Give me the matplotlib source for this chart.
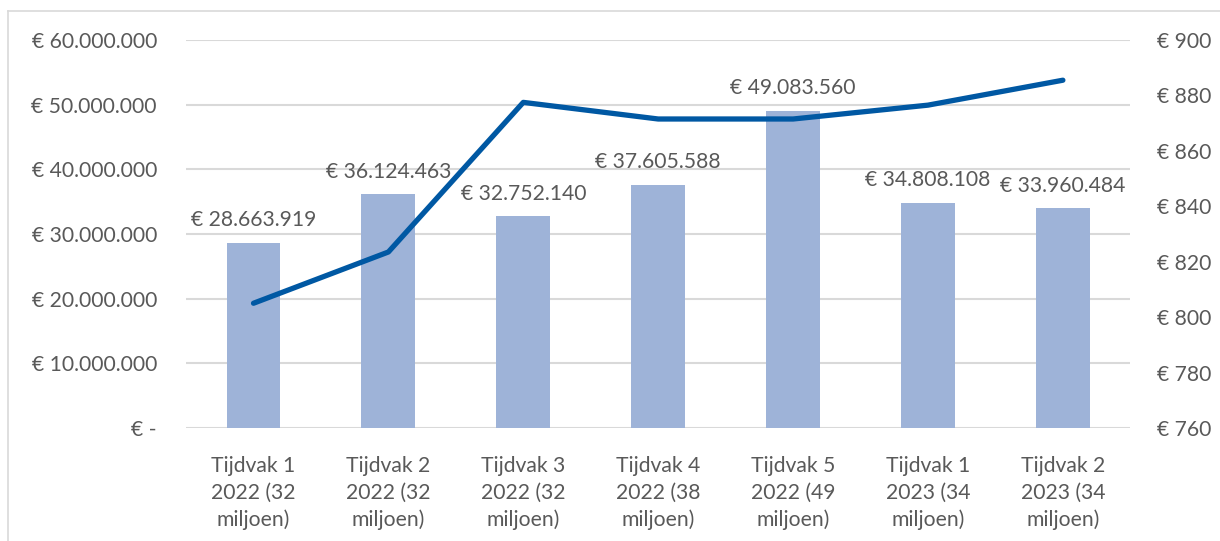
import numpy as np
import matplotlib.pyplot as plt
from matplotlib.lines import Line2D

# Data
categories = ['Tijdvak 1\n2022 (32\nmiljoen)', 'Tijdvak 2\n2022 (32\nmiljoen)',
              'Tijdvak 3\n2022 (32\nmiljoen)', 'Tijdvak 4\n2022 (38\nmiljoen)',
              'Tijdvak 5\n2022 (49\nmiljoen)', 'Tijdvak 1\n2023 (34\nmiljoen)',
              'Tijdvak 2\n2023 (34\nmiljoen)']
totals = [28663919, 36124463, 32752140, 37605588, 49083560, 34808108, 33960484]
average = [805, 823.5, 877.5, 871.5, 871.5, 876.5, 885.5]

left_ticks = [0, 10e6, 20e6, 30e6, 40e6, 50e6, 60e6]
right_ticks = [760, 780, 800, 820, 840, 860, 880, 900]


def euro(v):
    if v == 0:
        return '€ -'
    return '€ ' + f'{v:,.0f}'.replace(',', '.')


plt.rcParams['font.family'] = ['Lato', 'DejaVu Sans']
text_col = '#595959'
grid_col = '#D9D9D9'
fs = 15.2

fig = plt.figure(figsize=(12.2, 5.41), dpi=100)
ax = fig.add_axes([0.1525, 0.209, 0.774, 0.717])
ax2 = ax.twinx()

x = np.arange(len(categories))
ax.bar(x, totals, width=0.4, color='#9EB3D8', zorder=2)
ax.set_xlim(-0.5, len(categories) - 0.5)
ax.set_ylim(0, 60e6)
ax.set_yticks(left_ticks)
ax.set_yticklabels([euro(v) for v in left_ticks])
ax.yaxis.grid(True, color=grid_col, linewidth=1.5, zorder=0)
ax.set_axisbelow(True)
ax.set_xticks(x)
ax.set_xticklabels(categories, linespacing=1.42)

for xi, v in zip(x, totals):
    ax.annotate(euro(v), (xi, v), xytext=(0, 9), textcoords='offset points',
                ha='center', va='bottom', fontsize=fs, color=text_col, zorder=5)

ax2.plot(x, average, color='#0058A3', linewidth=3.8, solid_capstyle='round',
         solid_joinstyle='round', zorder=4)
ax2.set_ylim(760, 900)
ax2.set_yticks(right_ticks)
ax2.set_yticklabels([euro(v) for v in right_ticks])

for a in (ax, ax2):
    for s in a.spines.values():
        s.set_visible(False)
    a.tick_params(length=0, labelsize=fs, colors=text_col)
ax.tick_params(axis='y', pad=21)
ax.tick_params(axis='x', pad=20)
ax2.tick_params(axis='y', pad=19)

# Outer chart border (top and left visible)
fig.add_artist(Line2D([8 / 1220, 1], [1 - 11 / 541, 1 - 11 / 541],
                      transform=fig.transFigure, color=grid_col, linewidth=1.2))
fig.add_artist(Line2D([8 / 1220, 8 / 1220], [0, 1 - 11 / 541],
                      transform=fig.transFigure, color=grid_col, linewidth=1.2))

fig.savefig('out.png', dpi=100)
